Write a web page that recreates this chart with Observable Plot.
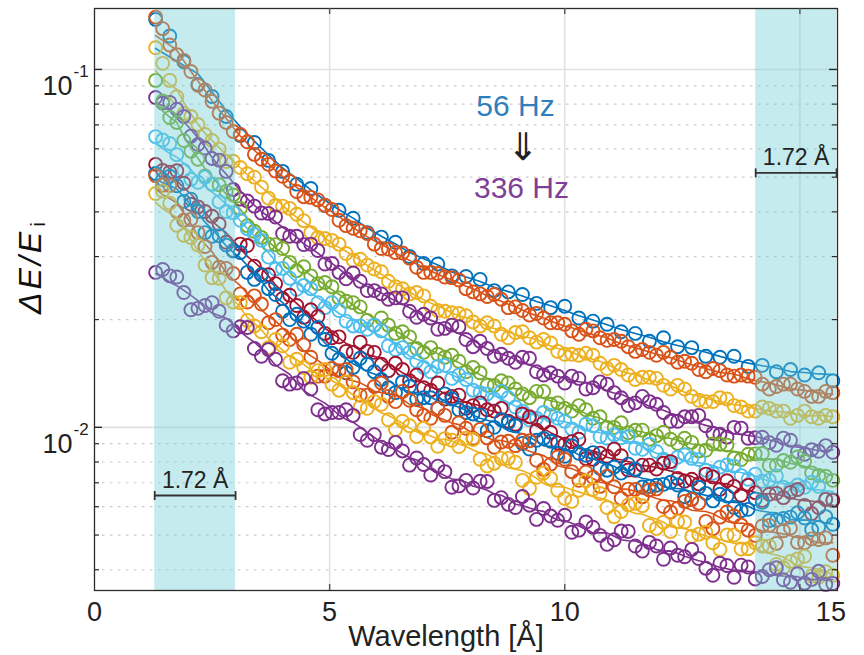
<!DOCTYPE html>
<html>
<head>
<meta charset="utf-8">
<script src="https://cdn.jsdelivr.net/npm/d3@7"></script>
<script src="https://cdn.jsdelivr.net/npm/@observablehq/plot@0.6"></script>
<style>
  html, body { margin: 0; padding: 0; background: #fff; }
  #chart { width: 864px; height: 655px; }
</style>
</head>
<body>
<div id="chart"></div>
<script>
// ---- data ----
const wavelength = [1.3,1.6,1.9,2.2,2.5,2.8,3.1,3.4,3.7,4.0,4.3,4.6,4.9,5.2,5.5,5.8,6.1,6.4,6.7,7.0,7.3,7.6,7.9,8.2,8.5,8.8,9.1,9.4,9.7,10.0,10.3,10.6,10.9,11.2,11.5,11.8,12.1,12.4,12.7,13.0,13.3,13.6,13.9,14.2,14.5,14.8,15.1,15.4,15.7];
const wavelengthMid = [1.45,1.75,2.05,2.35,2.65,2.95,3.25,3.55,3.85,4.15,4.45,4.75,5.05,5.35,5.65,5.95,6.25,6.55,6.85,7.15,7.45,7.75,8.05,8.35,8.65,8.95,9.25,9.55,9.85,10.15,10.45,10.75,11.05,11.35,11.65,11.95,12.25,12.55,12.85,13.15,13.45,13.75,14.05,14.35,14.65,14.95,15.25,15.55];
const frequencies = [56,84,112,140,168,196,224,252,280,308,336];
const seriesColors = ["#0072BD","#D95319","#EDB120","#7E2F8E","#77AC30","#4DBEEE","#A2142F","#0072BD","#D95319","#EDB120","#7E2F8E"];

const dE_56 = [0.138,0.124,0.105,0.0908,0.0840,0.0739,0.0654,0.0625,0.0557,0.0519,0.0478,0.0465,0.0417,0.0404,0.0384,0.0350,0.0340,0.0329,0.0300,0.0287,0.0286,0.0265,0.0264,0.0259,0.0241,0.0239,0.0235,0.0222,0.0216,0.0218,0.0202,0.0198,0.0194,0.0185,0.0183,0.0174,0.0178,0.0168,0.0167,0.0158,0.0157,0.0158,0.0148,0.0149,0.0143,0.0145,0.0140,0.0142,0.0135];
const dE_84 = [0.140,0.117,0.106,0.0903,0.0814,0.0711,0.0658,0.0579,0.0543,0.0503,0.0456,0.0439,0.0417,0.0379,0.0360,0.0348,0.0316,0.0308,0.0297,0.0271,0.0269,0.0262,0.0244,0.0236,0.0235,0.0216,0.0212,0.0208,0.0196,0.0194,0.0182,0.0186,0.0175,0.0174,0.0163,0.0162,0.0162,0.0152,0.0151,0.0143,0.0144,0.0139,0.0139,0.0132,0.0130,0.0132,0.0126,0.0122,0.0125];
const dE_84_mid = [0.130,0.110,0.0987,0.0876,0.0755,0.0671,0.0628,0.0561,0.0520,0.0487,0.0441,0.0432,0.0406,0.0366,0.0354,0.0325,0.0315,0.0307,0.0280,0.0271,0.0263,0.0258,0.0239,0.0232,0.0228,0.0217,0.0206,0.0202,0.0196,0.0186,0.0188,0.0178,0.0176,0.0168,0.0165,0.0159,0.0157,0.0153,0.0145,0.0146,0.0140,0.0140,0.0138,0.0128,0.0132,0.0128,0.0122,0.0126];
const dE_112 = [0.115,0.0932,0.0753,0.0702,0.0633,0.0553,0.0532,0.0500,0.0437,0.0415,0.0394,0.0350,0.0337,0.0325,0.0293,0.0284,0.0272,0.0247,0.0236,0.0233,0.0212,0.0209,0.0205,0.0192,0.0192,0.0178,0.0185,0.0173,0.0172,0.0160,0.0159,0.0159,0.0146,0.0145,0.0136,0.0138,0.0131,0.0131,0.0122,0.0118,0.0121,0.0115,0.0111,0.0114,0.0111,0.0106,0.0111,0.0106,0.0107];
const dE_112_mid = [0.104,0.0839,0.0739,0.0658,0.0599,0.0554,0.0511,0.0469,0.0417,0.0409,0.0378,0.0339,0.0333,0.0306,0.0295,0.0277,0.0256,0.0244,0.0238,0.0218,0.0211,0.0208,0.0197,0.0196,0.0182,0.0184,0.0178,0.0176,0.0163,0.0160,0.0161,0.0151,0.0149,0.0140,0.0138,0.0137,0.0128,0.0128,0.0119,0.0118,0.0120,0.0114,0.0111,0.0113,0.0111,0.0108,0.0107,0.0108];
const dE_140 = [0.0835,0.0809,0.0739,0.0617,0.0564,0.0519,0.0434,0.0415,0.0396,0.0348,0.0342,0.0325,0.0286,0.0271,0.0270,0.0241,0.0236,0.0230,0.0211,0.0207,0.0188,0.0193,0.0176,0.0174,0.0158,0.0156,0.0157,0.0143,0.0142,0.0133,0.0137,0.0129,0.0132,0.0121,0.0117,0.0118,0.0110,0.0104,0.0107,0.0101,0.00956,0.0100,0.00932,0.00938,0.00891,0.00920,0.00841,0.00857,0.00852];
const dE_140_mid = [0.0806,0.0774,0.0651,0.0603,0.0558,0.0462,0.0429,0.0397,0.0387,0.0342,0.0324,0.0312,0.0287,0.0260,0.0256,0.0241,0.0228,0.0230,0.0203,0.0202,0.0189,0.0191,0.0168,0.0166,0.0160,0.0152,0.0156,0.0140,0.0139,0.0139,0.0128,0.0134,0.0125,0.0115,0.0122,0.0116,0.0104,0.0107,0.0108,0.00963,0.00939,0.00995,0.00935,0.00906,0.00933,0.00855,0.00866,0.00889];
const dE_168 = [0.0932,0.0734,0.0633,0.0561,0.0478,0.0456,0.0409,0.0353,0.0325,0.0316,0.0274,0.0265,0.0254,0.0230,0.0223,0.0199,0.0202,0.0183,0.0179,0.0162,0.0160,0.0159,0.0143,0.0142,0.0131,0.0133,0.0124,0.0126,0.0116,0.0113,0.0115,0.0106,0.0100,0.0103,0.00981,0.00926,0.00969,0.00902,0.00908,0.00863,0.00897,0.00819,0.00841,0.00845,0.00784,0.00799,0.00804,0.00734,0.00711];
const dE_168_mid = [0.0816,0.0711,0.0591,0.0504,0.0476,0.0446,0.0366,0.0339,0.0324,0.0289,0.0281,0.0252,0.0247,0.0225,0.0217,0.0193,0.0193,0.0185,0.0166,0.0167,0.0157,0.0153,0.0147,0.0131,0.0135,0.0128,0.0121,0.0126,0.0117,0.0111,0.0112,0.0107,0.0100,0.00966,0.00982,0.00948,0.00926,0.00932,0.00859,0.00898,0.00892,0.00813,0.00843,0.00782,0.00808,0.00826,0.00746,0.00730];
const dE_196 = [0.0649,0.0621,0.0522,0.0484,0.0478,0.0401,0.0379,0.0346,0.0299,0.0278,0.0243,0.0244,0.0216,0.0212,0.0192,0.0188,0.0186,0.0165,0.0162,0.0147,0.0148,0.0137,0.0136,0.0125,0.0120,0.0121,0.0111,0.0106,0.0108,0.0104,0.00969,0.0101,0.00932,0.00935,0.00874,0.00897,0.00814,0.00825,0.00819,0.00759,0.00774,0.00779,0.00716,0.00707,0.00731,0.00671,0.00680,0.00684,0.00629];
const dE_196_mid = [0.0635,0.0578,0.0493,0.0500,0.0427,0.0398,0.0359,0.0333,0.0277,0.0261,0.0249,0.0223,0.0223,0.0198,0.0192,0.0193,0.0169,0.0167,0.0153,0.0143,0.0149,0.0140,0.0127,0.0124,0.0126,0.0114,0.0105,0.0110,0.0106,0.00990,0.0102,0.00942,0.00953,0.00941,0.00868,0.00856,0.00787,0.00838,0.00813,0.00744,0.00785,0.00733,0.00740,0.00712,0.00680,0.00690,0.00702,0.00630];
const dE_224 = [0.0543,0.0516,0.0481,0.0413,0.0389,0.0329,0.0325,0.0282,0.0267,0.0229,0.0219,0.0213,0.0183,0.0179,0.0162,0.0163,0.0150,0.0151,0.0135,0.0129,0.0133,0.0122,0.0113,0.0117,0.0111,0.0104,0.0109,0.00981,0.00969,0.00897,0.00926,0.00814,0.00830,0.00833,0.00759,0.00784,0.00794,0.00720,0.00716,0.00740,0.00671,0.00684,0.00689,0.00625,0.00654,0.00658,0.00605,0.00597,0.00625];
const dE_224_mid = [0.0522,0.0521,0.0420,0.0401,0.0370,0.0312,0.0322,0.0267,0.0252,0.0234,0.0203,0.0204,0.0178,0.0163,0.0173,0.0162,0.0144,0.0145,0.0140,0.0127,0.0120,0.0123,0.0115,0.0112,0.0113,0.0102,0.0107,0.0103,0.00905,0.00912,0.00818,0.00847,0.00869,0.00760,0.00784,0.00765,0.00802,0.00707,0.00695,0.00727,0.00709,0.00646,0.00657,0.00650,0.00636,0.00670,0.00574,0.00629];
const dE_252 = [0.0512,0.0503,0.0428,0.0401,0.0342,0.0323,0.0308,0.0259,0.0244,0.0211,0.0207,0.0182,0.0176,0.0155,0.0147,0.0150,0.0136,0.0125,0.0130,0.0121,0.0113,0.0120,0.0110,0.0108,0.0100,0.0103,0.00902,0.00920,0.00914,0.00830,0.00846,0.00850,0.00759,0.00745,0.00764,0.00684,0.00693,0.00690,0.00629,0.00654,0.00650,0.00597,0.00590,0.00617,0.00550,0.00561,0.00558,0.00526,0.00536];
const dE_252_mid = [0.0493,0.0473,0.0434,0.0350,0.0343,0.0311,0.0271,0.0267,0.0235,0.0200,0.0198,0.0190,0.0161,0.0142,0.0156,0.0143,0.0129,0.0134,0.0120,0.0121,0.0124,0.0112,0.0109,0.00978,0.0105,0.0101,0.00870,0.00931,0.00846,0.00888,0.00835,0.00769,0.00775,0.00789,0.00681,0.00689,0.00702,0.00640,0.00680,0.00623,0.00643,0.00585,0.00631,0.00549,0.00556,0.00577,0.00518,0.00563];
const dE_280 = [0.0505,0.0474,0.0379,0.0350,0.0289,0.0278,0.0236,0.0233,0.0196,0.0181,0.0182,0.0157,0.0139,0.0144,0.0134,0.0123,0.0133,0.0118,0.0119,0.0108,0.0113,0.00969,0.00994,0.00987,0.00880,0.00914,0.00920,0.00809,0.00789,0.00814,0.00711,0.00725,0.00730,0.00633,0.00671,0.00668,0.00601,0.00594,0.00629,0.00546,0.00561,0.00565,0.00516,0.00530,0.00474,0.00523,0.00476,0.00486,0.00439];
const dE_280_mid = [0.0475,0.0401,0.0381,0.0320,0.0280,0.0269,0.0224,0.0221,0.0200,0.0176,0.0170,0.0139,0.0146,0.0145,0.0123,0.0130,0.0122,0.0126,0.0112,0.0106,0.0108,0.0103,0.00932,0.00934,0.00910,0.00889,0.00917,0.00763,0.00826,0.00752,0.00750,0.00684,0.00682,0.00672,0.00640,0.00673,0.00580,0.00621,0.00614,0.00521,0.00580,0.00533,0.00499,0.00532,0.00514,0.00477,0.00488,0.00491];
const dE_308 = [0.0450,0.0423,0.0344,0.0323,0.0262,0.0230,0.0223,0.0192,0.0167,0.0169,0.0155,0.0138,0.0145,0.0127,0.0125,0.0113,0.0116,0.00987,0.0101,0.00994,0.00885,0.00920,0.00932,0.00814,0.00794,0.00819,0.00711,0.00725,0.00720,0.00633,0.00667,0.00671,0.00597,0.00582,0.00613,0.00532,0.00543,0.00546,0.00496,0.00509,0.00456,0.00500,0.00458,0.00466,0.00414,0.00422,0.00436,0.00381,0.00386];
const dE_308_mid = [0.0457,0.0367,0.0339,0.0284,0.0261,0.0224,0.0199,0.0185,0.0176,0.0152,0.0147,0.0144,0.0132,0.0134,0.0114,0.0118,0.0105,0.0104,0.00943,0.00940,0.00930,0.00884,0.00925,0.00780,0.00819,0.00799,0.00675,0.00745,0.00667,0.00621,0.00709,0.00653,0.00563,0.00607,0.00604,0.00522,0.00512,0.00544,0.00503,0.00476,0.00500,0.00457,0.00476,0.00466,0.00405,0.00429,0.00384,0.00395];
const dE_336 = [0.0271,0.0265,0.0238,0.0215,0.0223,0.0193,0.0191,0.0166,0.0165,0.0135,0.0133,0.0128,0.0109,0.0110,0.0108,0.00920,0.00880,0.00908,0.00784,0.00787,0.00779,0.00680,0.00711,0.00707,0.00625,0.00609,0.00641,0.00553,0.00565,0.00568,0.00516,0.00526,0.00471,0.00513,0.00466,0.00477,0.00428,0.00439,0.00456,0.00404,0.00417,0.00381,0.00407,0.00383,0.00405,0.00369,0.00367,0.00396,0.00366];
const dE_336_mid = [0.0276,0.0263,0.0213,0.0219,0.0211,0.0186,0.0190,0.0158,0.0155,0.0132,0.0137,0.0112,0.0110,0.0112,0.00955,0.00954,0.00867,0.00859,0.00821,0.00736,0.00752,0.00686,0.00677,0.00706,0.00636,0.00597,0.00606,0.00593,0.00550,0.00509,0.00544,0.00499,0.00485,0.00512,0.00451,0.00466,0.00460,0.00435,0.00430,0.00386,0.00411,0.00412,0.00377,0.00400,0.00375,0.00390,0.00376,0.00364];

const seriesValues = [dE_56,dE_84,dE_112,dE_140,dE_168,dE_196,dE_224,dE_252,dE_280,dE_308,dE_336];
const seriesMidValues = [[],dE_84_mid,dE_112_mid,dE_140_mid,dE_168_mid,dE_196_mid,dE_224_mid,dE_252_mid,dE_280_mid,dE_308_mid,dE_336_mid];

// shaded 1.72 Å windows
const bands = [
  {start: 1.28, end: 3.00, level: 0.00645},
  {start: 14.06, end: 15.78, level: 0.0514}
];
const bandLabel = "1.72 Å";

// axis ticks
const xTickValues = [0, 5, 10, 15];
const yMajorTicks = [0.1, 0.01];
const yExponents = ["-1", "-2"];
const yMinorTicks = [0.004,0.005,0.006,0.007,0.008,0.009,0.02,0.03,0.04,0.05,0.06,0.07,0.08,0.09];

// ---- build table ----
const seriesRows = frequencies.map((hz, s) => {
  const a = seriesValues[s].map((v, i) => ({lambda: wavelength[i], value: v, hz}));
  const b = seriesMidValues[s].map((v, i) => ({lambda: wavelengthMid[i], value: v, hz}));
  return a.concat(b).sort((p, q) => p.lambda - q.lambda);
});

const FONT = "'Liberation Sans', Arial, Helvetica, sans-serif";
const W = 864, H = 655, ML = 94, MR = 27, MT = 8, MB = 65;
const FW = W - ML - MR, FH = H - MT - MB;

const capSymbol = {draw(ctx, size) { const r = Math.sqrt(size / Math.PI); ctx.moveTo(0, -r); ctx.lineTo(0, r); }};

const marks = [
  // grid
  Plot.ruleY(yMinorTicks, {stroke: "#c9c9c9", strokeWidth: 1.2, strokeDasharray: "2.5,5.5"}),
  Plot.ruleY(yMajorTicks, {stroke: "#e2e2e2", strokeWidth: 1.6}),
  Plot.ruleX(xTickValues.filter(d => d > 0), {stroke: "#e2e2e2", strokeWidth: 1.6})
];

seriesRows.forEach((sub) => {
  marks.push(Plot.dot(sub, {x: "lambda", y: "value", r: 6.5, stroke: "hz", strokeWidth: 1.9, fill: "none"}));
  marks.push(Plot.line(sub, Plot.windowY({k: 7, reduce: "mean", strict: false}, {x: "lambda", y: "value", stroke: "hz", strokeWidth: 1.6})));
});

marks.push(
  // translucent cyan windows over the data
  Plot.rect(bands, {x1: "start", x2: "end", fill: "rgb(110,205,212)", fillOpacity: 0.4}),
  Plot.frame({stroke: "#2b2b2b", strokeWidth: 1.3}),
  // inward ticks
  Plot.tickY(yMinorTicks, {stroke: "#2b2b2b", strokeWidth: 1.2, insetRight: FW - 5}),
  Plot.tickY(yMinorTicks, {stroke: "#2b2b2b", strokeWidth: 1.2, insetLeft: FW - 5}),
  Plot.tickY(yMajorTicks, {stroke: "#2b2b2b", strokeWidth: 1.4, insetRight: FW - 8}),
  Plot.tickY(yMajorTicks, {stroke: "#2b2b2b", strokeWidth: 1.4, insetLeft: FW - 8}),
  Plot.tickX(xTickValues.filter(d => d > 0), {stroke: "#555", strokeWidth: 1.4, insetTop: FH - 6}),
  Plot.tickX(xTickValues.filter(d => d > 0), {stroke: "#555", strokeWidth: 1.4, insetBottom: FH - 6}),
  // x tick labels
  Plot.text(xTickValues.filter(d => d < 15), {x: d => d, text: d => String(d), frameAnchor: "bottom", lineAnchor: "middle", dy: 22, fontSize: 27, fill: "#222"}),
  Plot.text(xTickValues.filter(d => d === 15), {x: d => d, text: d => String(d), frameAnchor: "bottom", lineAnchor: "middle", dy: 22, dx: 31, fontSize: 27, fill: "#222"}),
  // y tick labels 10^-n
  Plot.text(yMajorTicks, {y: d => d, text: () => "10", frameAnchor: "left", textAnchor: "end", lineAnchor: "middle", dx: -22, dy: 17, fontSize: 27, fill: "#222"}),
  Plot.text(yMajorTicks, {y: d => d, text: (d, i) => yExponents[i], frameAnchor: "left", textAnchor: "start", lineAnchor: "middle", dx: -21, dy: 2, fontSize: 17, fill: "#222"}),
  // axis titles
  Plot.text(["Wavelength [Å]"], {frameAnchor: "bottom", textAnchor: "middle", lineAnchor: "middle", dx: -20, dy: 46, fontSize: 29, fill: "#222"}),
  Plot.text(["ΔE/E"], {frameAnchor: "left", textAnchor: "middle", lineAnchor: "middle", dx: -64, dy: -28, rotate: -90, fontSize: 32, fontStyle: "italic", fill: "#111"}),
  Plot.text(["i"], {frameAnchor: "left", textAnchor: "middle", lineAnchor: "middle", dx: -56, dy: -75, rotate: -90, fontSize: 21, fill: "#111"}),
  // 1.72 Å brackets
  Plot.ruleY(bands, {x1: "start", x2: "end", y: "level", stroke: "#333", strokeWidth: 1.8}),
  Plot.dot(bands, {x: "start", y: "level", symbol: capSymbol, r: 4.5, stroke: "#333", strokeWidth: 1.8}),
  Plot.dot(bands, {x: "end", y: "level", symbol: capSymbol, r: 4.5, stroke: "#333", strokeWidth: 1.8}),
  Plot.text(bands, {x: d => (d.start + d.end) / 2, y: "level", text: () => bandLabel, dy: -15, fontSize: 23, fill: "#222"}),
  // frequency annotation
  Plot.text(["56 Hz"], {frameAnchor: "top-left", textAnchor: "middle", lineAnchor: "middle", dx: 421, dy: 98, fontSize: 30, fill: "#2f7fbf"}),
  Plot.text(["⇓"], {frameAnchor: "top-left", textAnchor: "middle", lineAnchor: "middle", dx: 428, dy: 139, fontSize: 38, fontWeight: 200, fontFamily: "'DejaVu Sans', sans-serif", fill: "#222"}),
  Plot.text(["336 Hz"], {frameAnchor: "top-left", textAnchor: "middle", lineAnchor: "middle", dx: 427, dy: 180, fontSize: 30, fill: "#7f3f98"})
);

const chart = Plot.plot({
  width: W, height: H,
  marginLeft: ML, marginRight: MR, marginTop: MT, marginBottom: MB,
  style: {fontFamily: FONT, background: "#fff", overflow: "visible"},
  x: {domain: [0, 15.8], axis: null},
  y: {type: "log", domain: [0.0035, 0.148], axis: null},
  color: {type: "ordinal", domain: frequencies, range: seriesColors},
  marks
});
// wider letter spacing on the y-axis title, as in the original
d3.select(chart).selectAll("text").filter(function() { return this.textContent === "ΔE/E"; }).attr("letter-spacing", "3px");
document.getElementById("chart").appendChild(chart);
</script>
</body>
</html>
